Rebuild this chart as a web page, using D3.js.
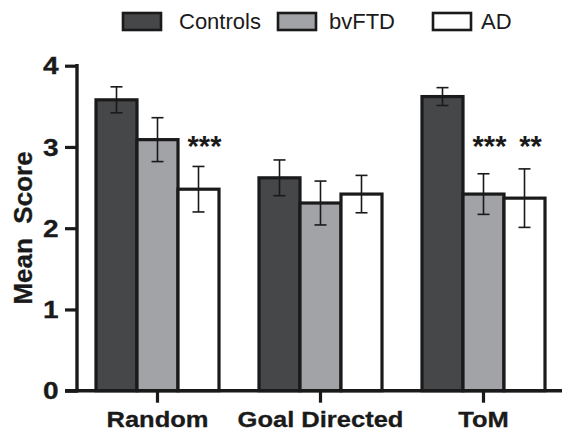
<!DOCTYPE html>
<html>
<head>
<meta charset="utf-8">
<script src="https://cdn.jsdelivr.net/npm/d3@7"></script>
<style>
  body { margin: 0; background: #fff; }
  text { font-family: "Liberation Sans", Arial, sans-serif; fill: #1a1a1a; }
</style>
</head>
<body>
<div id="viz-container"></div>
<script>
// data
let categories = ["Random", "Goal Directed", "ToM"];
let groups = ["Controls", "bvFTD", "AD"];
let groupColors = ["#454749", "#a2a3a6", "#ffffff"];
let controlsMean = [3.58, 2.62, 3.62];
let controlsErr = [0.16, 0.22, 0.11];
let bvftdMean = [3.09, 2.31, 2.42];
let bvftdErr = [0.27, 0.27, 0.25];
let adMean = [2.48, 2.42, 2.37];
let adErr = [0.28, 0.23, 0.36];
let sigBvftd = ["", "", "***"];
let sigAd = ["***", "", "**"];
let yTicks = [0, 1, 2, 3, 4];

let means = [controlsMean, bvftdMean, adMean];
let errs = [controlsErr, bvftdErr, adErr];
let sigs = [["", "", ""], sigBvftd, sigAd];

let rows = [];
categories.forEach(function(c, i) {
  groups.forEach(function(g, j) {
    rows.push({cat: c, group: g, gi: j, mean: means[j][i], err: errs[j][i], sig: sigs[j][i]});
  });
});

let viz = d3.select("#viz-container")
  .append("svg")
    .attr("width", 562)
    .attr("height", 430)
;

let x = d3.scaleBand().domain(categories).range([76, 565]);
let xSub = d3.scaleBand().domain(groups).range([-61.5, 61.5]);
let y = d3.scaleLinear().domain([0, 4]).range([390.7, 65.7]);

// bars
viz.selectAll("rect.bar").data(rows).enter().append("rect")
    .attr("class", "bar")
    .attr("x", d => x(d.cat) + x.bandwidth() / 2 + xSub(d.group))
    .attr("y", d => y(d.mean))
    .attr("width", xSub.bandwidth())
    .attr("height", d => y(0) - y(d.mean))
    .attr("fill", d => groupColors[d.gi])
    .attr("stroke", "#1a1a1a")
    .attr("stroke-width", 3.2)
;

// error bars
let eb = viz.selectAll("g.err").data(rows).enter().append("g")
    .attr("class", "err")
    .attr("transform", d => "translate(" + (x(d.cat) + x.bandwidth() / 2 + xSub(d.group) + xSub.bandwidth() / 2) + ",0)")
;
eb.append("line")
    .attr("y1", d => y(d.mean + d.err))
    .attr("y2", d => y(d.mean - d.err))
    .attr("stroke", "#1a1a1a").attr("stroke-width", 1.6);
eb.append("line")
    .attr("x1", -6).attr("x2", 6)
    .attr("y1", d => y(d.mean + d.err)).attr("y2", d => y(d.mean + d.err))
    .attr("stroke", "#1a1a1a").attr("stroke-width", 1.6);
eb.append("line")
    .attr("x1", -6).attr("x2", 6)
    .attr("y1", d => y(d.mean - d.err)).attr("y2", d => y(d.mean - d.err))
    .attr("stroke", "#1a1a1a").attr("stroke-width", 1.6);

// significance stars
viz.selectAll("text.sig").data(rows.filter(d => d.sig)).enter().append("text")
    .attr("class", "sig")
    .attr("x", d => x(d.cat) + x.bandwidth() / 2 + xSub(d.group) + xSub.bandwidth() / 2 + 6)
    .attr("y", 156)
    .attr("text-anchor", "middle")
    .attr("font-size", 29)
    .attr("font-weight", "bold")
    .text(d => d.sig)
;

// y axis
let yAxis = viz.append("g")
    .attr("transform", "translate(77,0)")
    .call(d3.axisLeft(y).tickValues(yTicks).tickSize(12).tickPadding(6).tickFormat(d3.format("d")))
;
yAxis.select(".domain").remove();
yAxis.append("line")
    .attr("y1", y(4) - 1.7).attr("y2", y(0) + 1.7)
    .attr("stroke", "#1a1a1a").attr("stroke-width", 3.4);
yAxis.selectAll(".tick line").attr("stroke", "#1a1a1a").attr("stroke-width", 3.2);
yAxis.selectAll(".tick text")
    .attr("font-size", 23)
    .attr("font-weight", "bold")
    .attr("fill", "#1a1a1a")
    .attr("stroke", "#1a1a1a")
    .attr("stroke-width", 0.3)
    .attr("dy", "0.36em")
    .attr("x", -15)
    .attr("transform", "scale(1.22,1)")
;

// x axis
let xAxis = viz.append("g")
    .attr("transform", "translate(0," + y(0) + ")")
    .call(d3.axisBottom(x).tickSize(12).tickPadding(8))
;
xAxis.select(".domain").remove();
xAxis.append("line")
    .attr("x1", 65).attr("x2", 562)
    .attr("stroke", "#1a1a1a").attr("stroke-width", 3.4);
xAxis.selectAll(".tick line").attr("stroke", "#1a1a1a").attr("stroke-width", 3.2);
xAxis.selectAll(".tick text")
    .attr("font-size", 22)
    .attr("font-weight", "bold")
    .attr("fill", "#1a1a1a")
    .attr("stroke", "#1a1a1a")
    .attr("stroke-width", 0.3)
    .attr("y", 36)
    .attr("dy", 0)
    .attr("transform", "scale(1.16,1)")
;

// y label
viz.append("text")
    .attr("transform", "translate(32,228) rotate(-90)")
    .attr("text-anchor", "middle")
    .attr("font-size", 26)
    .attr("font-weight", "bold")
    .attr("stroke", "#1a1a1a")
    .attr("stroke-width", 0.3)
    .style("white-space", "pre")
    .text("Mean  Score")
;

// legend
let legend = viz.selectAll("g.legend").data(groups).enter().append("g")
    .attr("class", "legend")
    .attr("transform", (d, i) => "translate(" + (123 + i * 155) + ",13)")
;
legend.append("rect")
    .attr("width", 38)
    .attr("height", 17)
    .attr("fill", (d, i) => groupColors[i])
    .attr("stroke", "#1a1a1a")
    .attr("stroke-width", 2.6)
;
legend.append("text")
    .attr("x", (d, i) => [56, 51, 48][i])
    .attr("y", 16)
    .attr("font-size", 22)
    .text(d => d)
;
</script>
</body>
</html>
